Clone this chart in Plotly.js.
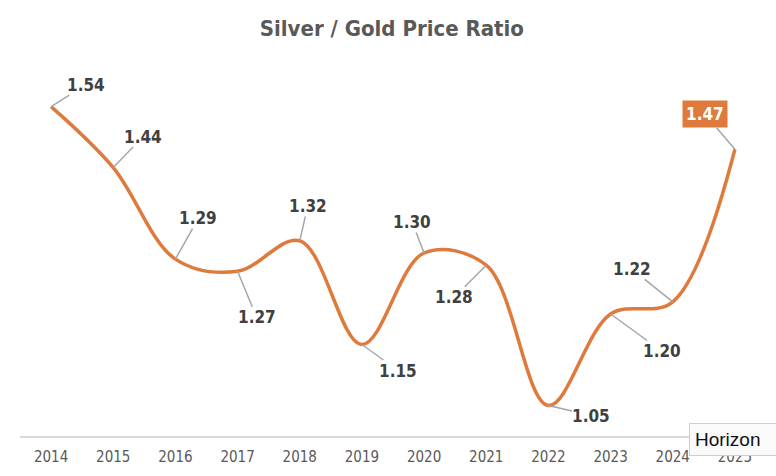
<!DOCTYPE html>
<html>
<head>
<meta charset="utf-8">
<script src="https://cdn.plot.ly/plotly-3.0.1.min.js"></script>
<style>html,body{margin:0;padding:0;background:#fff;}#chart{width:776px;height:476px;}</style>
</head>
<body>
<div id="chart"></div>
<script>
const years = [2014, 2015, 2016, 2017, 2018, 2019, 2020, 2021, 2022, 2023, 2024, 2025];
const yearLabels = ["2014","2015","2016","2017","2018","2019","2020","2021","2022","2023","2024","2025"];
const ratio = [1.54, 1.44, 1.29, 1.27, 1.32, 1.15, 1.30, 1.28, 1.05, 1.20, 1.22, 1.47];
const labelTexts = ratio.map(v => v.toFixed(2));
// label offsets (pixels) relative to each point
const labelDX = [35, 30, 23, 19, 8, 36, -12, -32, 43, 51, -41, -30];
const labelDY = [-22, -31, -41, 46, -35, 26, -31, 32, 10, 37, -33, -35];

const FONT = '"DejaVu Sans Condensed", "Liberation Sans Narrow", Roboto, sans-serif';
const ORANGE = '#DF7A3D';

const annotations = years.map((yr, i) => {
  const last = i === years.length - 1;
  return {
    x: yr, y: ratio[i], xref: 'x', yref: 'y',
    text: '<b>' + labelTexts[i] + '</b>',
    showarrow: true, arrowhead: 0, arrowwidth: 1.5, arrowcolor: '#A6A6A6',
    ax: labelDX[i], ay: labelDY[i],
    font: {family: FONT, size: 17, color: last ? '#ffffff' : '#404040'},
    bgcolor: last ? ORANGE : 'rgba(0,0,0,0)',
    borderpad: last ? 3 : 0,
    standoff: 0
  };
});
annotations.push({
  xref: 'paper', yref: 'paper', x: 0.897, y: -0.01, xanchor: 'left', yanchor: 'middle',
  text: 'Horizon&nbsp;&nbsp;', showarrow: false, align: 'left',
  font: {family: 'Liberation Sans, Arial, sans-serif', size: 19, color: '#111'},
  bgcolor: '#fafafa', bordercolor: '#cfcfcf', borderwidth: 1, borderpad: 5
});

const trace = {
  x: years, y: ratio, type: 'scatter', mode: 'lines',
  line: {shape: 'spline', smoothing: 1.0, color: ORANGE, width: 3.5},
  hoverinfo: 'skip'
};

const layout = {
  width: 776, height: 476,
  margin: {l: 20, r: 10, t: 70, b: 40},
  paper_bgcolor: '#fff', plot_bgcolor: '#fff',
  title: {text: '<b>Silver / Gold Price Ratio</b>', x: 0.505, xanchor: 'center', y: 0.94, yanchor: 'middle',
    font: {family: FONT, size: 22, color: '#595959'}},
  xaxis: {range: [2013.5, 2025.5], tickmode: 'array', tickvals: years, ticktext: yearLabels,
    showgrid: false, zeroline: false, showline: true, linecolor: '#D9D9D9', linewidth: 1.5,
    ticks: '', tickfont: {family: FONT, size: 15, color: '#595959'}, ticklabelstandoff: 6},
  yaxis: {range: [1.0, 1.6], visible: false, showgrid: false, zeroline: false},
  showlegend: false,
  hovermode: false,
  annotations: annotations
};
Plotly.newPlot('chart', [trace], layout, {staticPlot: true, displayModeBar: false});
</script>
</body>
</html>
